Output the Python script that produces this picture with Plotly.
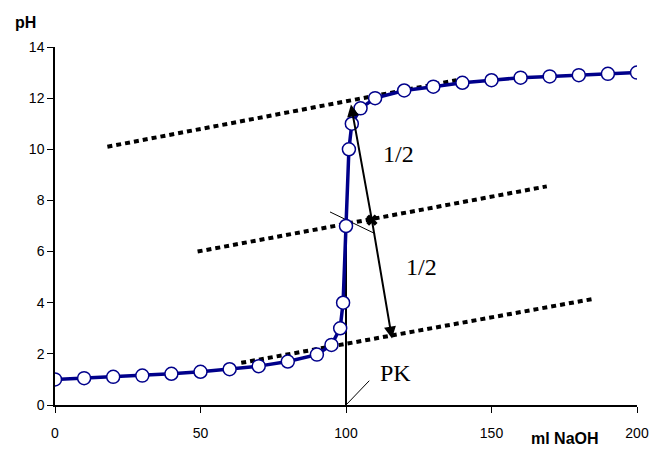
import plotly.graph_objects as go

# titration curve
naoh_ml = [0, 10, 20, 30, 40, 50, 60, 70, 80, 90, 95, 98, 99, 100, 101, 102,
           105, 110, 120, 130, 140, 150, 160, 170, 180, 190, 200]
ph = [1.0, 1.05, 1.1, 1.15, 1.22, 1.3, 1.4, 1.52, 1.7, 1.97, 2.35, 3.0, 4.0, 7.0,
      10.0, 11.0, 11.6, 12.0, 12.3, 12.45, 12.6, 12.7, 12.8, 12.85, 12.9, 12.95, 13.0]

# tangent / parallel construction lines (start, end)
upper_x, upper_y = [18, 138], [10.1, 12.7]
middle_x, middle_y = [49, 169], [6.0, 8.55]
lower_x, lower_y = [64, 185], [1.65, 4.15]

# equivalence point helpers
vert_x, vert_y = [100, 100], [0, 7.0]
cross_x, cross_y = [94.5, 110], [7.55, 6.7]
pk_x, pk_y = [100, 108], [0, 0.95]
mid_pt = [108.9, 7.23]
arrow_top = [101.7, 11.75]
arrow_bot = [115.8, 2.6]

fig = go.Figure()

for xs, ys in [(upper_x, upper_y), (middle_x, middle_y), (lower_x, lower_y)]:
    fig.add_trace(go.Scatter(x=xs, y=ys, mode='lines',
                             line=dict(color='black', width=4, dash='5px,4px')))

fig.add_trace(go.Scatter(x=vert_x, y=vert_y, mode='lines', line=dict(color='black', width=2)))
fig.add_trace(go.Scatter(x=cross_x, y=cross_y, mode='lines', line=dict(color='black', width=1)))
fig.add_trace(go.Scatter(x=pk_x, y=pk_y, mode='lines', line=dict(color='black', width=1)))

fig.add_trace(go.Scatter(x=naoh_ml, y=ph, mode='lines+markers',
                         line=dict(color='#00008b', width=3.5),
                         marker=dict(size=13, color='white', line=dict(color='#00008b', width=1.5))))

fig.add_trace(go.Scatter(x=[mid_pt[0]], y=[mid_pt[1]], mode='markers',
                         marker=dict(symbol='x', size=10, color='black')))

# double arrow from mid point to both parallels
for tip in (arrow_top, arrow_bot):
    fig.add_annotation(x=tip[0], y=tip[1], ax=mid_pt[0], ay=mid_pt[1],
                       xref='x', yref='y', axref='x', ayref='y', text='',
                       showarrow=True, arrowhead=2, arrowsize=1.2, arrowwidth=2,
                       arrowcolor='black')

serif = dict(family='Liberation Serif, Times New Roman, serif', size=24, color='black')
fig.add_annotation(x=118, y=9.8, text='1/2', showarrow=False, font=serif)
fig.add_annotation(x=126, y=5.4, text='1/2', showarrow=False, font=serif)
fig.add_annotation(x=117, y=1.25, text='PK', showarrow=False, font=serif)

fig.add_annotation(x=-0.05, y=1.04, xref='paper', yref='paper', text='<b>pH</b>',
                   showarrow=False, xanchor='center', yanchor='bottom',
                   font=dict(family='Liberation Sans, Arial', size=16, color='black'))
fig.add_annotation(x=0.876, y=-0.065, xref='paper', yref='paper', text='<b>ml NaOH</b>',
                   showarrow=False, xanchor='center', yanchor='top',
                   font=dict(family='Liberation Sans, Arial', size=16, color='black'))

fig.update_layout(
    width=654, height=450,
    margin=dict(l=55, r=17, t=47, b=45),
    plot_bgcolor='white', paper_bgcolor='white',
    showlegend=False,
    font=dict(family='Liberation Sans, Arial', size=14, color='black'),
)
fig.update_xaxes(range=[0, 200], tickvals=[0, 50, 100, 150, 200], showgrid=False,
                 zeroline=False, showline=True, linecolor='black', linewidth=1.5,
                 ticks='outside', ticklen=6, tickcolor='black', ticklabelstandoff=8,
                 automargin=False)
fig.update_yaxes(range=[0, 14], tickvals=list(range(0, 15, 2)), showgrid=False,
                 zeroline=False, showline=True, linecolor='black', linewidth=1.5,
                 ticks='outside', ticklen=6, tickcolor='black', automargin=False)

fig.write_html("out.html", config={'displayModeBar': False},
               post_script="document.body.style.margin='0';")
